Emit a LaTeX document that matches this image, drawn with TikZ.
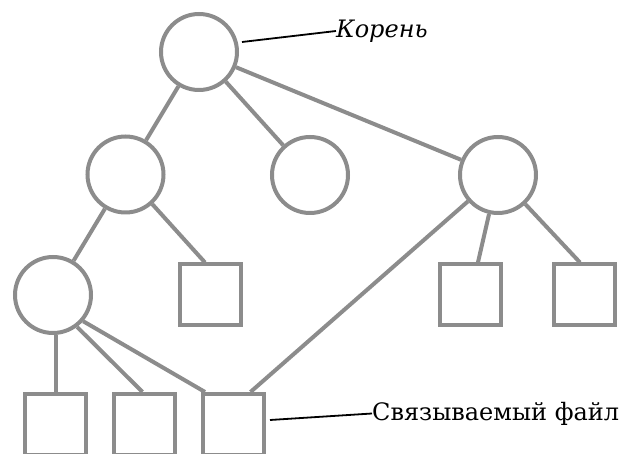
\documentclass[tikz,border=0pt]{standalone}
\usepackage{fontspec}
\newfontfamily\labelserif{DejaVu Serif}
\begin{document}
\begin{tikzpicture}[x=1pt,y=-1pt,
  edge/.style={draw=treegray,line width=4pt},
  dirnode/.style={circle,draw=treegray,line width=4pt,fill=white,minimum size=76pt,inner sep=0pt},
  filenode/.style={rectangle,draw=treegray,line width=4pt,fill=white,minimum size=61pt,inner sep=0pt},
  leader/.style={draw=black,line width=1.8pt},
  tag/.style={inner sep=0pt,anchor=west,text=black}]
\definecolor{treegray}{HTML}{8C8C8C}
\useasboundingbox (0,0) rectangle (625,454);
\clip (0,0) rectangle (625,454);

% directories
\node[dirnode] (root) at (199,52) {};
\node[dirnode] (c1) at (125.5,174.5) {};
\node[dirnode] (c2) at (310,175) {};
\node[dirnode] (c3) at (498,175) {};
\node[dirnode] (c4) at (53,295) {};

% files
\node[filenode] (s1) at (210.5,295) {};
\node[filenode] (s2) at (470.5,295) {};
\node[filenode] (s3) at (584.5,295) {};
\node[filenode] (b1) at (55.5,424.5) {};
\node[filenode] (b2) at (144.5,424.5) {};
\node[filenode] (b3) at (233.5,424.5) {};

% tree edges
\draw[edge] (root) -- (c1);
\draw[edge] (root) -- (c2);
\draw[edge] (root) -- (c3);
\draw[edge] (c1) -- (c4);
\draw[edge] (c1) -- ([xshift=-5.5pt]s1.north);
\draw[edge] (b1.north) -- (b1.north |- c4.south);
\draw[edge] (c4.-53) -- ([xshift=-2pt]b2.north);
\draw[edge] (c4.-41) -- ([xshift=4pt]b3.north west);
\draw[edge] (c3) -- ([xshift=17pt]b3.north);
\draw[edge] (c3) -- (s2);
\draw[edge] (c3) -- ([xshift=-4.5pt]s3.north);

% labels
\node[tag,font=\labelserif\fontsize{24}{28}\selectfont\itshape] (kor) at (336,31) {Корень};
\coordinate (k1) at (242,42);
\draw[leader] (k1) -- (kor.west);

\node[tag,font=\labelserif\fontsize{24}{28}\selectfont] (file) at (372,413.5) {Связываемый файл};
\coordinate (f1) at (270,420);
\draw[leader] (f1) -- (file.west);
\end{tikzpicture}
\end{document}
